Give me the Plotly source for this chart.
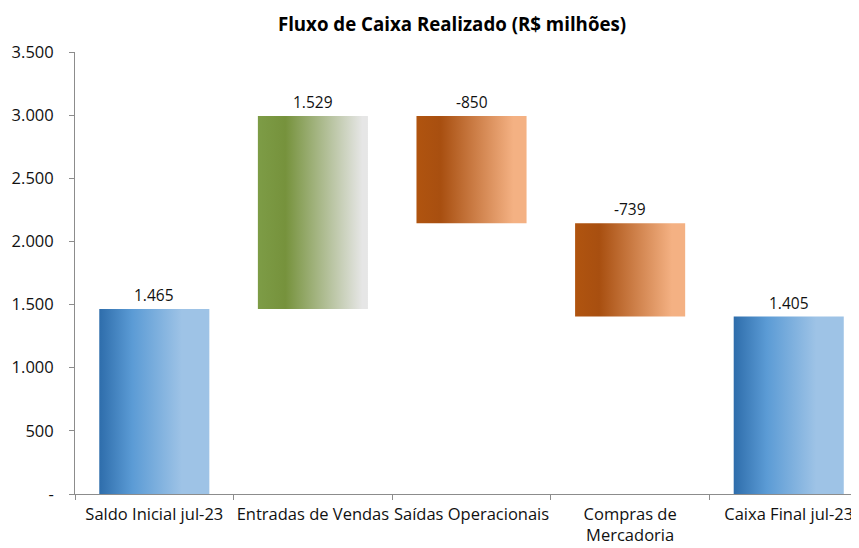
import plotly.graph_objects as go

categories = ["Saldo Inicial jul-23", "Entradas de Vendas", "Saídas Operacionais",
              "Compras de<br>Mercadoria", "Caixa Final jul-23"]
values = [1465, 1529, -850, -739, 1405]
kinds = ["total", "delta", "delta", "delta", "total"]
labels = ["1.465", "1.529", "-850", "-739", "1.405"]
ytick_vals = [0, 500, 1000, 1500, 2000, 2500, 3000, 3500]
ytick_text = ["-", "500", "1.000", "1.500", "2.000", "2.500", "3.000", "3.500"]

blue = [[0, "#2e6dab"], [0.3, "#5b9bd5"], [0.75, "#9ec3e6"], [1, "#9ec3e6"]]
green = [[0, "#7d9c46"], [0.25, "#76923c"], [0.95, "#e6e6e6"], [1, "#e6e6e6"]]
orange = [[0, "#b0540f"], [0.22, "#a84f10"], [0.88, "#f4b183"], [1, "#f4b183"]]

FONT = "Open Sans"
TXT = "#111111"
half = 0.347
OFF = 8  # page body margin

fig = go.Figure()
running = 0
annotations = []
for i, (v, k) in enumerate(zip(values, kinds)):
    if k == "total":
        lo, hi = 0, v
        running = v
        cs = blue
    else:
        start = running
        running = running + v
        lo, hi = min(start, running), max(start, running)
        cs = green if v > 0 else orange
    fig.add_trace(go.Scatter(
        x=[i - half, i + half, i + half, i - half, i - half],
        y=[lo, lo, hi, hi, lo],
        mode="lines", line=dict(width=0), fill="toself",
        fillgradient=dict(type="horizontal", colorscale=cs),
        hoverinfo="skip", showlegend=False))
    annotations.append(dict(x=i, y=hi, text=labels[i], showarrow=False,
                            yanchor="bottom", yshift=1,
                            font=dict(family=FONT, size=15.5, color=TXT)))

W, H = 859 - OFF, 548 - OFF
fig.update_layout(
    width=W, height=H,
    margin=dict(l=75 - OFF, r=0, t=52 - OFF, b=54, autoexpand=False),
    paper_bgcolor="white", plot_bgcolor="white",
    title=dict(text="<b>Fluxo de Caixa Realizado (R$ milhões)</b>",
               x=(452 - OFF) / W, xref="container", xanchor="center",
               y=1 - (24 - OFF) / H, yref="container", yanchor="middle",
               font=dict(family=FONT, size=18.7, color="#000")),
    annotations=annotations,
    font=dict(family=FONT, size=15, color=TXT),
)
fig.update_xaxes(
    range=[-0.5, 4.443], tickvals=list(range(len(categories))), ticktext=categories,
    ticks="", showgrid=False, zeroline=False, showline=True, linecolor="#8c8c8c",
    linewidth=1, tickfont=dict(family=FONT, size=16.5, color=TXT),
    ticklabelstandoff=5,
    minor=dict(tick0=0.5, dtick=1, ticks="outside", ticklen=5, tickcolor="#8c8c8c",
               showgrid=False),
)
fig.update_yaxes(
    range=[0, 3500], tickvals=ytick_vals, ticktext=ytick_text,
    ticks="outside", ticklen=5, tickcolor="#8c8c8c", showgrid=False, zeroline=False,
    showline=True, linecolor="#8c8c8c", linewidth=1,
    tickfont=dict(family=FONT, size=16.5, color=TXT), ticklabelstandoff=12,
)

fig.write_html("out.html")
